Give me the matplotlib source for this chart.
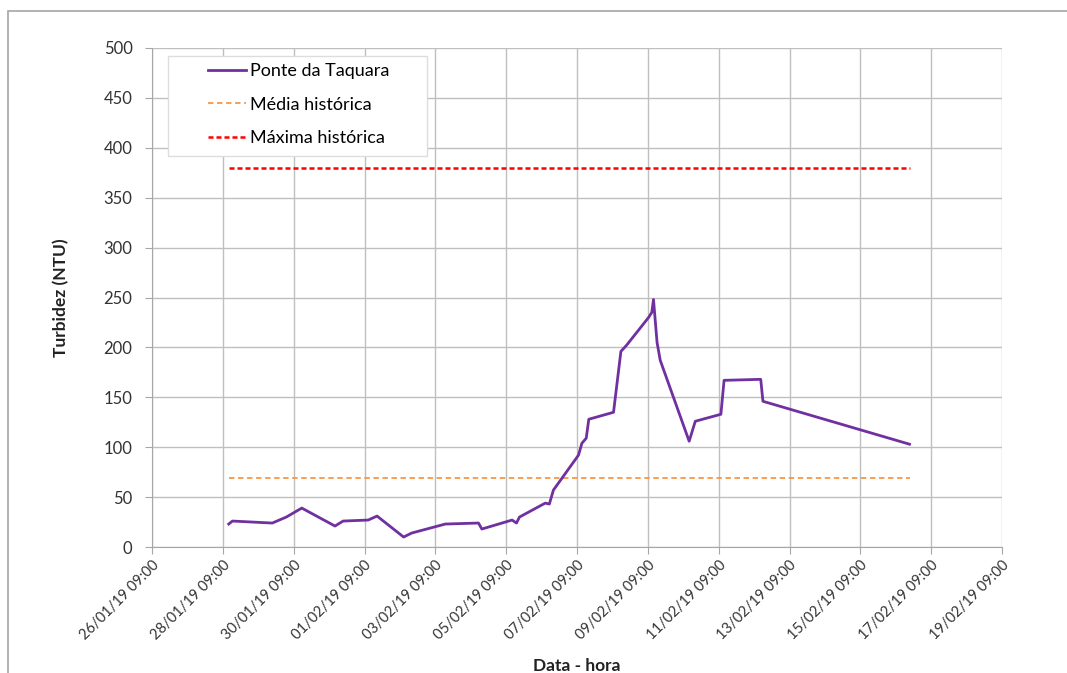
import matplotlib
matplotlib.use('Agg')
import matplotlib.pyplot as plt
import matplotlib.dates as mdates
from matplotlib.patches import Rectangle
import pandas as pd

# Dados
datas = ['2019-01-28 13:00', '2019-01-28 15:30', '2019-01-29 18:30', '2019-01-30 04:00',
         '2019-01-30 14:30', '2019-01-31 13:00', '2019-01-31 18:30', '2019-02-01 11:30',
         '2019-02-01 17:30', '2019-02-02 11:30', '2019-02-02 17:00', '2019-02-03 15:45',
         '2019-02-04 14:15', '2019-02-04 16:30', '2019-02-05 13:00', '2019-02-05 16:00',
         '2019-02-05 18:00', '2019-02-06 11:30', '2019-02-06 14:15', '2019-02-06 17:00',
         '2019-02-07 10:00', '2019-02-07 12:20', '2019-02-07 15:15', '2019-02-07 17:00',
         '2019-02-08 09:45', '2019-02-08 14:45', '2019-02-08 18:30', '2019-02-09 09:30',
         '2019-02-09 11:40', '2019-02-09 12:50', '2019-02-09 15:15', '2019-02-09 17:25',
         '2019-02-10 13:00', '2019-02-10 17:10', '2019-02-11 10:30', '2019-02-11 12:40',
         '2019-02-12 13:30', '2019-02-12 15:00', '2019-02-16 18:20']
turbidez = [23, 26, 24, 30, 39, 21, 26, 27, 31, 10, 14, 23, 24, 18, 27, 24, 30, 44, 43, 57,
            92, 104, 109, 128, 135, 196, 202, 230, 235, 248, 205, 187, 106, 126, 133, 167,
            168, 146, 103]
media_historica = 69
maxima_historica = 380
periodo_ref = ['2019-01-28 13:00', '2019-02-16 18:20']

t = pd.to_datetime(datas)
t_ref = pd.to_datetime(periodo_ref)

plt.rcParams['font.family'] = ['Lato', 'DejaVu Sans']
fig = plt.figure(figsize=(10.67, 6.73), dpi=100)

# moldura externa
fig.patches.append(Rectangle((8 / 1067, -0.1), 1.2, 1.1 - 11 / 673, transform=fig.transFigure,
                             fill=False, edgecolor='#a6a6a6', linewidth=1.2))

ax = fig.add_axes([152 / 1067, 1 - 547 / 673, 850 / 1067, 499 / 673])

ax.plot(t, turbidez, color='#7030a0', linewidth=2, label='Ponte da Taquara', zorder=3)
ax.plot(t_ref, [media_historica] * 2, color='#f79646', linewidth=1.3, linestyle=(0, (3, 2)),
        label='Média histórica', zorder=2)
ax.plot(t_ref, [maxima_historica] * 2, color='#ff0000', linewidth=1.8, linestyle=(0, (2, 1.2)),
        label='Máxima histórica', zorder=2)

ax.set_ylim(0, 500)
ax.set_yticks(range(0, 501, 50))
x0 = pd.Timestamp('2019-01-26 09:00')
x1 = pd.Timestamp('2019-02-19 09:00')
ax.set_xlim(x0, x1)
ax.set_xticks(pd.date_range(x0, x1, freq='2D'))
ax.xaxis.set_major_formatter(mdates.DateFormatter('%d/%m/%y %H:%M'))

ax.grid(True, color='#bfbfbf', linewidth=1)
ax.set_axisbelow(True)
for s in ['top', 'right']:
    ax.spines[s].set_visible(False)
for s in ['left', 'bottom']:
    ax.spines[s].set_color('#a6a6a6')
ax.tick_params(axis='both', colors='#a6a6a6', labelcolor='#333333', length=5)
ax.tick_params(axis='y', labelsize=12, pad=9)
ax.tick_params(axis='x', labelsize=10.5, pad=3)
plt.setp(ax.get_xticklabels(), rotation=45, ha='right', rotation_mode='anchor')

ax.set_ylabel('Turbidez (NTU)', fontsize=12.5, fontweight='bold', labelpad=25, color='#222222')
ax.set_xlabel('Data - hora', fontsize=12.5, fontweight='bold', labelpad=11, color='#222222')

# caixa da legenda
ax.add_patch(Rectangle((16 / 850, 1 - 108 / 499), 259 / 850, 100 / 499, transform=ax.transAxes,
                       facecolor='white', edgecolor='#dddddd', linewidth=1, zorder=4))
leg = ax.legend(loc='upper left', bbox_to_anchor=(56 / 850, 1 - 15 / 499), fontsize=13,
                frameon=False, borderpad=0, borderaxespad=0, handlelength=2.1,
                handletextpad=0.2, labelspacing=0.97)
leg.set_zorder(5)

fig.savefig('out.png', dpi=100)
